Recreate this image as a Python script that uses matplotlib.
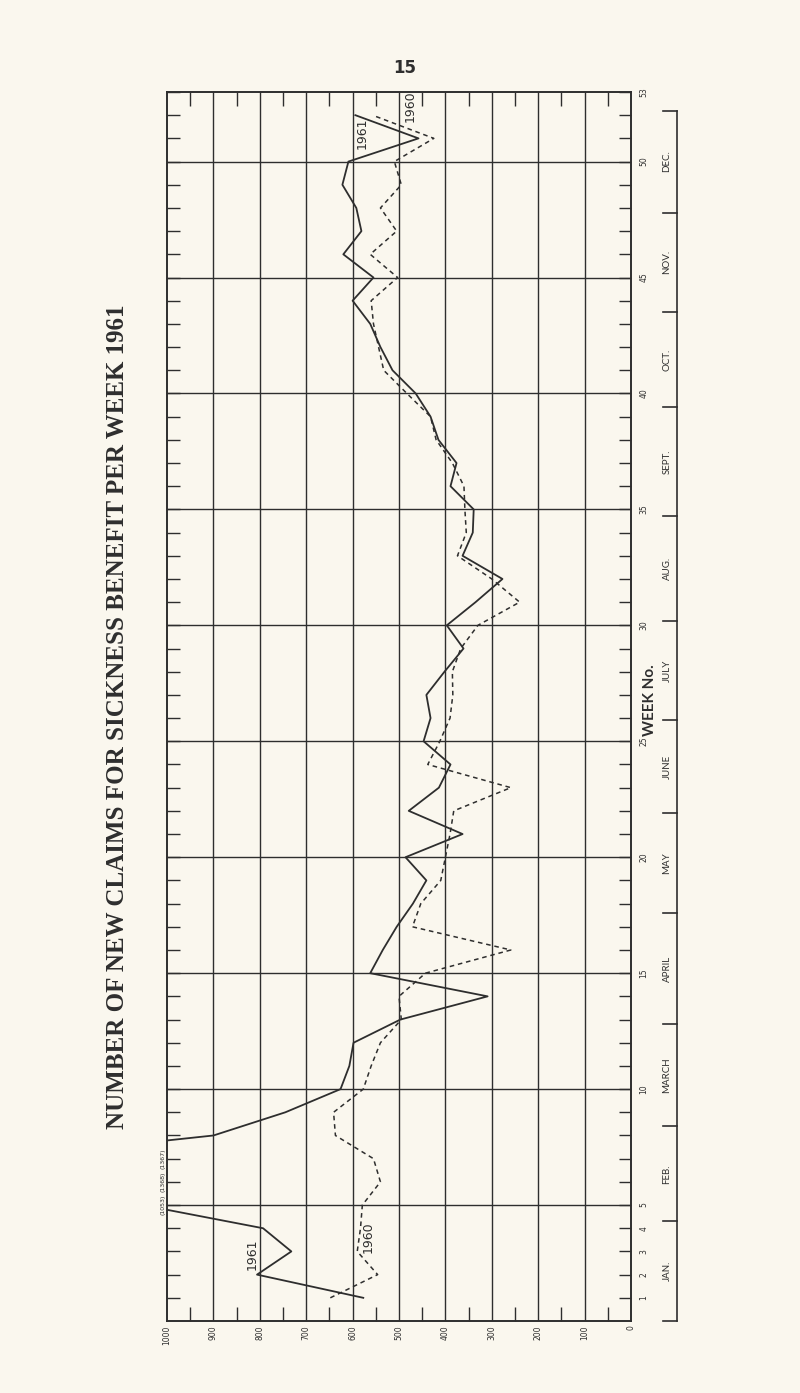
import matplotlib.pyplot as plt
from matplotlib.transforms import blended_transform_factory

# weekly new claims
weeks = list(range(1, 53))
claims_1961 = [577, 806, 732, 793, 1053, 1368, 1367, 900, 745, 626,
               607, 598, 497, 309, 562, 535, 505, 470, 441, 486,
               363, 479, 414, 389, 447, 432, 441, 402, 361, 397,
               335, 277, 363, 341, 339, 389, 376, 415, 432, 464,
               514, 540, 562, 600, 555, 620, 581, 592, 622, 609,
               458, 594]
claims_1960 = [648, 546, 590, 583, 579, 540, 555, 637, 641, 577,
               560, 540, 495, 500, 443, 259, 471, 453, 410, 400,
               390, 382, 259, 438, 412, 390, 384, 385, 367, 330,
               240, 300, 374, 355, 358, 360, 385, 420, 432, 483,
               533, 544, 555, 560, 503, 562, 505, 540, 495, 510,
               425, 557]

value_ticks = list(range(0, 1001, 100))
week_labels = {1: '1', 2: '2', 3: '3', 4: '4', 5: '5', 10: '10', 15: '15', 20: '20',
               25: '25', 30: '30', 35: '35', 40: '40', 45: '45', 50: '50', 53: '53'}
months = ['JAN.', 'FEB.', 'MARCH', 'APRIL', 'MAY', 'JUNE', 'JULY', 'AUG.',
          'SEPT.', 'OCT.', 'NOV.', 'DEC.']
month_edges = [0, 4.3, 8.4, 12.8, 17.6, 21.9, 25.9, 30.2, 34.7, 39.4, 43.5, 47.8, 52.2]

paper = '#faf7ee'
ink = '#2e2e2e'

fig = plt.figure(figsize=(8, 13.93), dpi=100, facecolor=paper)
ax = fig.add_axes([167 / 800, 1 - 1321 / 1393, (631 - 167) / 800, (1321 - 92) / 1393])
ax.set_facecolor(paper)
ax.set_xlim(1000, 0)
ax.set_ylim(0, 53)

# grid
for v in value_ticks[1:-1]:
    ax.axvline(v, color=ink, lw=1.0, zorder=1)
for w in range(5, 53, 5):
    ax.axhline(w, color=ink, lw=1.0, zorder=1)

ax.plot(claims_1961, weeks, color=ink, lw=1.3, zorder=3)
ax.plot(claims_1960, weeks, color=ink, lw=1.1, dashes=(3, 2.5), zorder=3)

for s in ax.spines.values():
    s.set_color(ink)
    s.set_linewidth(1.4)

# value axis
ax.set_xticks(value_ticks)
ax.set_xticklabels([str(v) for v in value_ticks], rotation=90, fontsize=5.5,
                   family='DejaVu Sans', va='top')
ax.set_xticks([v + 50 for v in value_ticks[:-1]], minor=True)
ax.tick_params(axis='x', which='major', length=0, pad=3, colors=ink)
ax.tick_params(axis='x', which='minor', direction='in', length=10, width=1.0,
               top=True, bottom=True, colors=ink)

# week axis
ax.set_yticks(range(1, 54))
ax.set_yticklabels([week_labels.get(w, '') for w in range(1, 54)], rotation=90,
                   fontsize=5.5, va='center')
ax.tick_params(axis='y', which='major', direction='in', length=9, width=1.0,
               left=True, right=True, labelleft=False, labelright=True, pad=6,
               colors=ink)

# off-scale values for 1961
trans_l = blended_transform_factory(fig.transFigure, ax.transData)
for w, v in zip(weeks, claims_1961):
    if v > 1000:
        ax.text(163 / 800, w, '(%d)' % v, transform=trans_l, rotation=90,
                fontsize=4.5, ha='center', va='center', color=ink)

# series labels
ax.text(816, 2.9, '1961', rotation=90, fontsize=9, ha='center', va='center', color=ink)
ax.text(566, 3.6, '1960', rotation=90, fontsize=9, ha='center', va='center', color=ink)
ax.text(579, 51.2, '1961', rotation=90, fontsize=9, ha='center', va='center', color=ink)
ax.text(475, 52.4, '1960', rotation=90, fontsize=9, ha='center', va='center', color=ink)

# month bracket
xb, xt = 677 / 800, 663 / 800
ax.plot([xb, xb], [month_edges[0], month_edges[-1]], transform=trans_l,
        color=ink, lw=1.2, clip_on=False)
for e in month_edges:
    ax.plot([xt, xb], [e, e], transform=trans_l, color=ink, lw=1.2, clip_on=False)
for i, m in enumerate(months):
    mid = (month_edges[i] + month_edges[i + 1]) / 2
    ax.text(667 / 800, mid, m, transform=trans_l, rotation=90, fontsize=7,
            family='Lato', ha='center', va='center', color=ink)

fig.text(650 / 800, 1 - 700 / 1393, 'WEEK No.', rotation=90, fontsize=11,
         family='Lato', fontweight='bold', ha='center', va='center', color=ink)

fig.text(118 / 800, 1 - 717 / 1393,
         'NUMBER OF NEW CLAIMS FOR SICKNESS BENEFIT PER WEEK 1961',
         rotation=90, fontsize=18, family='Liberation Serif', fontweight='bold',
         ha='center', va='center', color=ink)

fig.text(405 / 800, 1 - 68 / 1393, '15', fontsize=12, fontweight='bold',
         ha='center', va='center', color=ink)

fig.savefig('out.png', dpi=100, facecolor=paper)
